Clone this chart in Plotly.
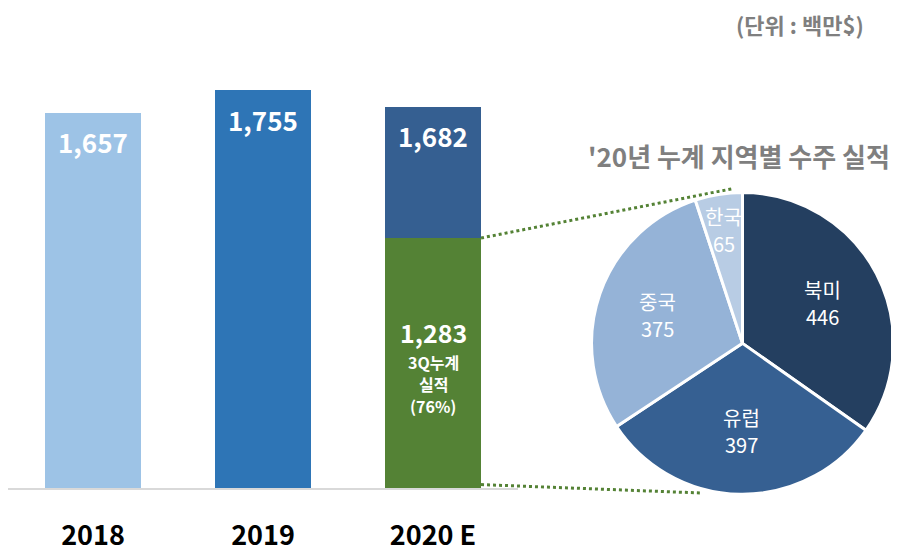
import math
import plotly.graph_objects as go

# ---------------- data ----------------
years = ["2018", "2019", "2020 E"]
totals = [1657, 1755, 1682]
total_labels = ["1,657", "1,755", "1,682"]
q3_year = "2020 E"
q3_value = 1283
q3_label = "1,283"
q3_note = ["3Q누계", "실적", "(76%)"]
regions = ["북미", "유럽", "중국", "한국"]
region_values = [446, 397, 375, 65]
pie_title = "'20년 누계 지역별 수주 실적"
unit_text = "(단위 : 백만$)"

# ---------------- style / layout ----------------
OFF = 8                      # page body margin of the browser
W, H = 899 - OFF, 553 - OFF  # figure size
FONT = "Noto Sans CJK KR"
bar_colors = ["#9DC3E6", "#2E75B6", "#355F91"]
green = "#548235"
pie_colors = ["#243F60", "#366092", "#95B3D7", "#B8CCE4"]
gray_txt = "#7F7F7F"

# target positions in screen pixels
X_L, X_R = 8, 518          # bar x-axis extent
Y_B, Y_T = 503, 40         # bar y-axis extent (bottom, top)
Y_MAX = 1981
Y2_MAX = 2302
BAR_W = 0.565
PIE_CX, PIE_CY, PIE_R = 742.5, 353.5, 155.5


def px_x(xv):
    return X_L + (xv + 0.5) / len(years) * (X_R - X_L)


def px_y(v, ymax):
    return Y_B - v / ymax * (Y_B - Y_T)


def pap_x(px):
    return (px - OFF) / W


def pap_y(py):
    return 1 - (py - OFF) / H


fig = go.Figure()

fig.add_trace(go.Bar(
    x=years, y=totals, marker=dict(color=bar_colors, line=dict(width=0)),
    width=BAR_W, hoverinfo="skip", showlegend=False,
))
fig.add_trace(go.Bar(
    x=[q3_year], y=[q3_value], yaxis="y2",
    marker=dict(color=green, line=dict(width=0)),
    width=BAR_W, hoverinfo="skip", showlegend=False,
))

fig.add_trace(go.Pie(
    labels=regions, values=region_values, sort=False, direction="clockwise",
    marker=dict(colors=pie_colors, line=dict(color="white", width=3)),
    textinfo="none", hoverinfo="skip", showlegend=False,
    domain=dict(x=[pap_x(PIE_CX - PIE_R), pap_x(PIE_CX + PIE_R)],
                y=[pap_y(PIE_CY + PIE_R), pap_y(PIE_CY - PIE_R)]),
))

annotations = []
# bar value labels
for i, (v, lab) in enumerate(zip(totals, total_labels)):
    annotations.append(dict(
        x=i, y=v, xref="x", yref="y", text=lab, showarrow=False,
        yanchor="middle", yshift=-29,
        font=dict(family=FONT, size=26, color="white", weight="bold"),
    ))
q3_idx = years.index(q3_year)
annotations.append(dict(
    x=q3_idx, y=q3_value / 2, xref="x", yref="y2", text=q3_label,
    showarrow=False, yanchor="middle", yshift=31,
    font=dict(family=FONT, size=25, color="white", weight="bold"),
))
for k, line in enumerate(q3_note):
    annotations.append(dict(
        x=q3_idx, y=q3_value / 2, xref="x", yref="y2", text=line,
        showarrow=False, yanchor="middle", yshift=1 - 22 * k,
        font=dict(family=FONT, size=16, color="white", weight="bold"),
    ))

# pie slice labels, placed at each slice's mid angle
total = sum(region_values)
cum = 0
for lab, v in zip(regions, region_values):
    frac = v / total
    mid = 2 * math.pi * (cum + frac / 2)
    cum += frac
    rr = PIE_R * (0.58 if frac > 0.15 else 0.76)
    cx = PIE_CX + rr * math.sin(mid)
    cy = PIE_CY - rr * math.cos(mid)
    for txt, dy in [(lab, -14), (str(v), 14)]:
        annotations.append(dict(
            x=pap_x(cx), y=pap_y(cy + dy), xref="paper", yref="paper",
            text=txt, showarrow=False,
            xanchor="center", yanchor="middle",
            font=dict(family=FONT, size=20, color="white"),
        ))

annotations.append(dict(
    x=pap_x(739), y=pap_y(160), xref="paper", yref="paper", text=pie_title,
    showarrow=False, xanchor="center", yanchor="middle",
    font=dict(family=FONT, size=26, color=gray_txt, weight="bold"),
))
annotations.append(dict(
    x=pap_x(866), y=pap_y(24), xref="paper", yref="paper", text=unit_text,
    showarrow=False, xanchor="right", yanchor="middle",
    font=dict(family=FONT, size=22, color=gray_txt, weight="bold"),
))

# connector lines from the 3Q bar to the pie
bar_right = px_x(q3_idx + BAR_W / 2)
top_start = (bar_right, px_y(q3_value, Y2_MAX))
bot_start = (bar_right, px_y(0, Y2_MAX) - 4)
a_top = math.radians(-4)
a_bot = math.radians(195)
top_end = (PIE_CX + PIE_R * math.sin(a_top), PIE_CY - PIE_R * math.cos(a_top) - 4)
bot_end = (PIE_CX + PIE_R * math.sin(a_bot), PIE_CY - PIE_R * math.cos(a_bot) + 4)
shapes = []
for s, e in [(top_start, top_end), (bot_start, bot_end)]:
    shapes.append(dict(
        type="line", xref="paper", yref="paper", layer="below",
        x0=pap_x(s[0]), y0=pap_y(s[1]), x1=pap_x(e[0]), y1=pap_y(e[1]),
        line=dict(color=green, width=3, dash="3px,3px"),
    ))

fig.update_layout(
    width=W, height=H, margin=dict(l=0, r=0, t=0, b=0),
    paper_bgcolor="white", plot_bgcolor="white",
    barmode="overlay", bargap=0,
    xaxis=dict(domain=[pap_x(X_L), pap_x(X_R)], type="category",
               range=[-0.5, len(years) - 0.5],
               showline=True, linecolor="#D9D9D9", linewidth=2,
               showgrid=False, zeroline=False, ticks="",
               tickfont=dict(family=FONT, size=27, color="black", weight="bold"),
               ticklabelstandoff=22, fixedrange=True),
    yaxis=dict(domain=[pap_y(Y_B), pap_y(Y_T)], range=[0, Y_MAX],
               visible=False, fixedrange=True),
    yaxis2=dict(domain=[pap_y(Y_B), pap_y(Y_T)], range=[0, Y2_MAX],
                overlaying="y", visible=False, fixedrange=True),
    annotations=annotations, shapes=shapes,
)

fig.write_html("out.html")
